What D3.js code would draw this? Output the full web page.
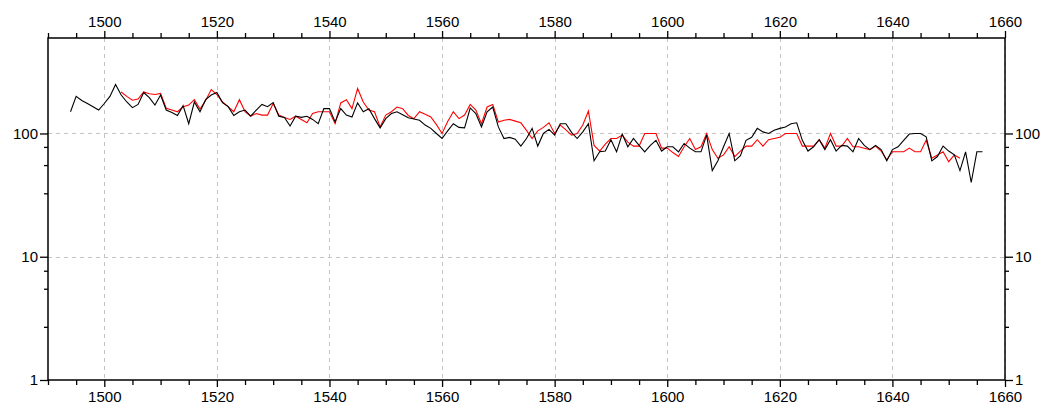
<!DOCTYPE html>
<html>
<head>
<meta charset="utf-8">
<script src="https://cdn.jsdelivr.net/npm/d3@7"></script>
<style>
  html, body { margin: 0; padding: 0; background: #fff; }
  svg text { font-family: "Liberation Sans", Arial, sans-serif; font-size: 15px; fill: #000; }
</style>
</head>
<body>
<svg id="chart" width="1042" height="411"></svg>
<script>
// ---- data ----
const blackStart = 1494;
const blackValues = [
  150,200,185,175,165,155,175,200,250,205, // 1494-1503
  180,162,172,215,195,170,205,155,148,140, // 1504-1513
  168,120,180,150,188,205,215,178,165,140, // 1514-1523
  150,155,138,155,172,165,178,138,135,115, // 1524-1533
  138,135,138,130,120,159,159,124,159,141, // 1534-1543
  136,177,150,159,132,111,132,145,150,142, // 1544-1553
  134,131,128,117,110,100,91,105,120,112,  // 1554-1563
  111,161,145,113,150,164,113,91,93,90,    // 1564-1573
  79,91,110,79,100,108,97,120,120,102,     // 1574-1583
  91,103,120,60,71,72,89,71,99,78,         // 1584-1593
  91,80,71,80,88,72,78,78,71,83,           // 1594-1603
  76,71,71,97,50,60,78,100,60,66,          // 1604-1613
  88,93,110,103,100,106,110,113,120,122,   // 1614-1623
  88,72,78,89,74,89,72,80,79,71,           // 1624-1633
  91,80,74,80,74,60,74,78,88,99,           // 1634-1643
  100,100,94,60,65,79,72,67,50,71,         // 1644-1653
  40,71,71                                 // 1654-1656
];
const redStart = 1503;
const redValues = [
  217,200,186,190,217,210,207,211,160,155, // 1503-1512
  150,165,170,188,158,185,227,207,180,165, // 1513-1522
  150,188,150,138,145,141,141,175,141,135, // 1523-1532
  130,138,130,122,145,150,150,150,120,177, // 1533-1542
  188,159,232,180,155,150,113,141,150,164, // 1543-1552
  159,140,132,150,143,136,118,100,125,150, // 1553-1562
  132,141,172,155,120,164,172,124,128,130, // 1563-1572
  126,122,106,91,105,112,122,100,117,107,  // 1573-1582
  97,100,117,152,80,72,82,91,91,97,        // 1583-1592
  85,79,79,100,100,100,76,76,70,65,        // 1593-1602
  78,91,74,78,100,74,63,67,78,65,          // 1603-1612
  72,79,79,89,79,89,91,93,100,100,         // 1613-1622
  100,79,79,79,89,76,100,79,79,91,         // 1623-1632
  78,78,76,74,79,72,61,71,71,71,           // 1633-1642
  76,71,71,88,63,67,71,59,67,63            // 1643-1652
];
const xTickLabels = [1500,1520,1540,1560,1580,1600,1620,1640,1660];
const yTickLabels = [1,10,100];
const yMinorTicks = [2.7,5.5,7.7,32.7,55.4,77.8];

const blackSeries = blackValues.map((v,i)=>({year: blackStart+i, value: v}));
const redSeries = redValues.map((v,i)=>({year: redStart+i, value: v}));

// ---- layout ----
const svg = d3.select("#chart");
const L = 48, R = 1005, T = 38, B = 380;
const x = d3.scaleLinear().domain([1490,1660]).range([L,R]);
const y = d3.scaleLog().domain([1,595]).range([B,T]);

// grid
const grid = svg.append("g").attr("stroke","#c4c4c4").attr("stroke-width",1).attr("stroke-dasharray","4,4");
xTickLabels.forEach(t=>{
  grid.append("line").attr("x1",Math.round(x(t))+0.5).attr("x2",Math.round(x(t))+0.5).attr("y1",T).attr("y2",B);
});
[10,100].forEach(t=>{
  grid.append("line").attr("x1",L).attr("x2",R).attr("y1",Math.round(y(t))+0.5).attr("y2",Math.round(y(t))+0.5);
});

// lines
const line = d3.line().x(d=>x(d.year)).y(d=>y(d.value));
svg.append("path").datum(redSeries).attr("d",line).attr("fill","none").attr("stroke","#ff0000").attr("stroke-width",1.1);
svg.append("path").datum(blackSeries).attr("d",line).attr("fill","none").attr("stroke","#000").attr("stroke-width",1.1);

// axes
const minorX = d3.range(1490,1661,5).filter(v=>v%20!==0);
function xAxis(g, orient, yPos){
  const ax = (orient==="top"? d3.axisTop(x): d3.axisBottom(x)).tickValues(xTickLabels).tickFormat(d3.format("d")).tickSize(7).tickPadding(4);
  g.attr("transform",`translate(0,${yPos})`).call(ax);
  const axm = (orient==="top"? d3.axisTop(x): d3.axisBottom(x)).tickValues(minorX).tickFormat("").tickSize(5);
  g.append("g").call(axm);
}
function yAxis(g, orient, xPos){
  const ax = (orient==="left"? d3.axisLeft(y): d3.axisRight(y)).tickValues(yTickLabels).tickFormat(d3.format("d")).tickSize(8).tickPadding(2);
  g.attr("transform",`translate(${xPos},0)`).call(ax);
  const axm = (orient==="left"? d3.axisLeft(y): d3.axisRight(y)).tickValues(yMinorTicks).tickFormat("").tickSize(4);
  g.append("g").call(axm);
}
const gTop = svg.append("g"); xAxis(gTop,"top",T);
const gBot = svg.append("g"); xAxis(gBot,"bottom",B);
const gLeft = svg.append("g"); yAxis(gLeft,"left",L);
const gRight = svg.append("g"); yAxis(gRight,"right",R);
svg.selectAll(".domain").remove();
svg.selectAll(".tick line").attr("stroke","#000").attr("stroke-width",1.3);
svg.selectAll(".tick text").style("font-family","'Liberation Sans', Arial, sans-serif").style("font-size","15px").attr("fill","#000");

// frame
svg.append("rect").attr("x",L).attr("y",T).attr("width",R-L).attr("height",B-T)
  .attr("fill","none").attr("stroke","#000").attr("stroke-width",1.5);
</script>
</body>
</html>
